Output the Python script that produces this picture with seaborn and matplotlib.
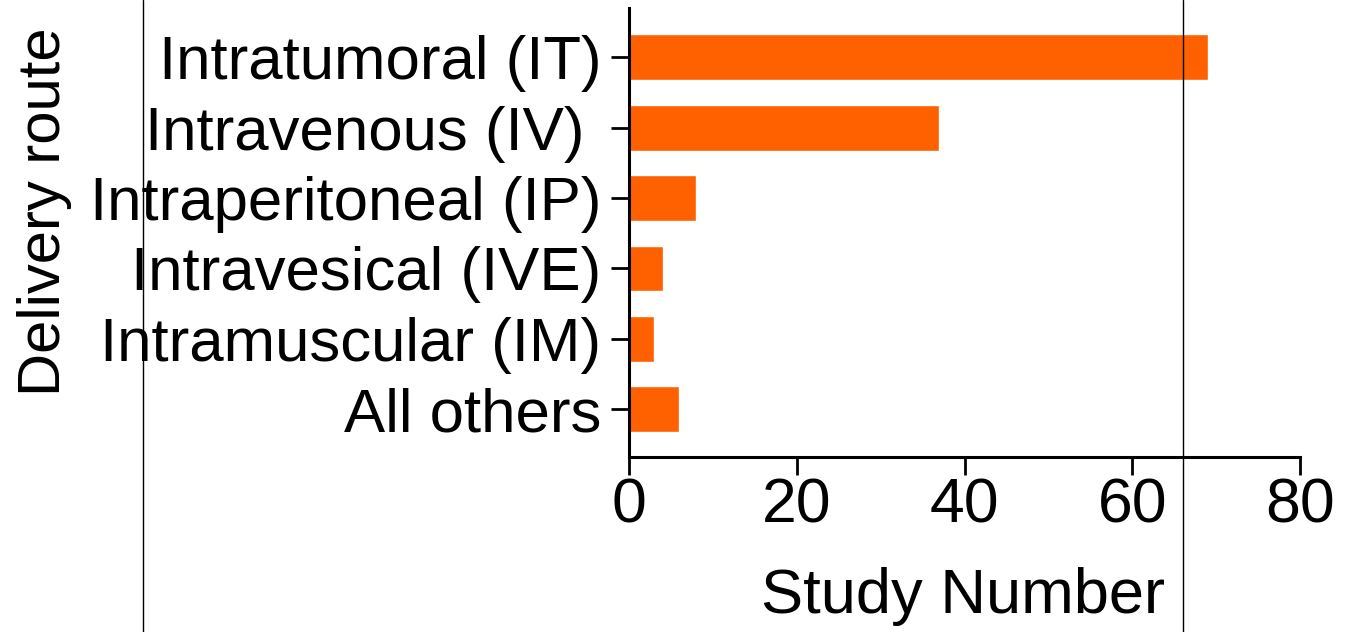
import matplotlib
matplotlib.use("Agg")
import matplotlib.pyplot as plt
from matplotlib.lines import Line2D
import seaborn as sns
import pandas as pd

routes = ["Intratumoral (IT)", "Intravenous (IV) ", "Intraperitoneal (IP)",
          "Intravesical (IVE)", "Intramuscular (IM)", "All others"]
study_counts = [69, 37, 8, 4, 3, 6]
x_ticks = [0, 20, 40, 60, 80]

sns.set_theme(style="ticks")
plt.rcParams["font.family"] = ["Liberation Sans", "DejaVu Sans"]

df = pd.DataFrame({"route": routes, "count": study_counts})

fig = plt.figure(figsize=(13.49, 6.32), dpi=100)
ax = fig.add_axes([0.4663, 0.2769, 0.4974, 0.7104])

sns.barplot(data=df, y="route", x="count", orient="h", color="#FF6100",
            saturation=1, width=0.65, ax=ax)

ax.set_xlim(0, 80)
ax.set_ylim(5.68, -0.7)
ax.set_xticks(x_ticks)
ax.set_xlabel("Study Number", fontsize=45.5)
ax.set_ylabel("Delivery route", fontsize=43)
ax.xaxis.set_label_coords(0.498, -0.245)
ax.yaxis.set_label_coords(-0.830, 0.546)
ax.tick_params(axis="x", labelsize=45, length=13, width=2, color="black", pad=1)
ax.tick_params(axis="y", labelsize=44.5, length=13, width=2, color="black", pad=7)
for lbl in ax.get_xticklabels() + ax.get_yticklabels():
    lbl.set_color("black")
ax.xaxis.label.set_color("black")
ax.yaxis.label.set_color("black")

sns.despine(ax=ax)
for side in ("left", "bottom"):
    ax.spines[side].set_linewidth(2.2)
    ax.spines[side].set_color("black")

# thin frame rules across the full height
for xf in (143 / 1349, 1183 / 1349):
    fig.add_artist(Line2D([xf, xf], [0, 1], transform=fig.transFigure,
                          color="black", linewidth=1.0, zorder=10))

fig.savefig("out.png", dpi=100)
